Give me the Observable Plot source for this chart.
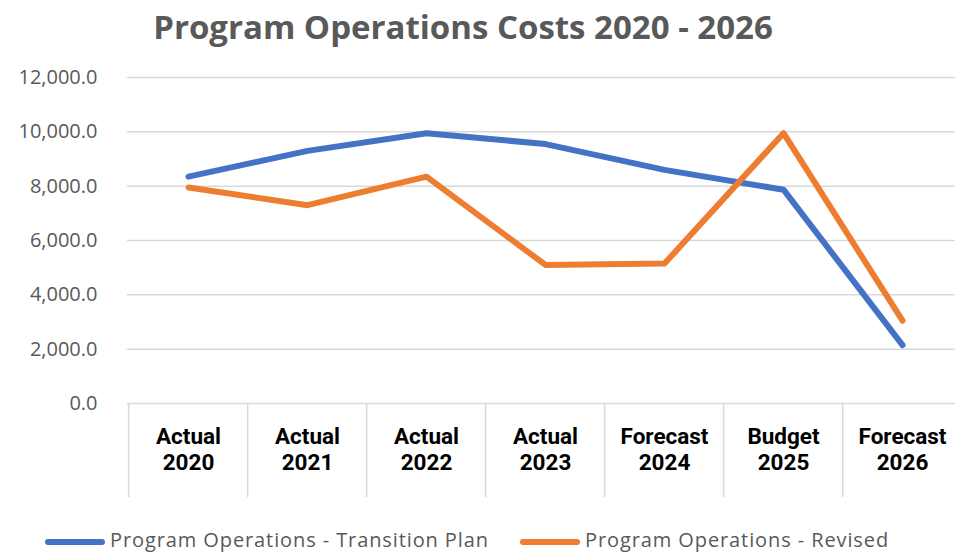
<!DOCTYPE html>
<html>
<head>
<meta charset="utf-8">
<script src="https://cdn.jsdelivr.net/npm/d3@7"></script>
<script src="https://cdn.jsdelivr.net/npm/@observablehq/plot@0.6"></script>
<style>
  html, body { margin: 0; padding: 0; background: #fff; }
  #wrap { position: relative; width: 955px; height: 555px; overflow: hidden; }
  #title { position: absolute; left: 0; top: 0; width: 926px; text-align: center; font-family: "Open Sans", sans-serif; font-weight: 700; font-size: 33px; color: #595959; line-height: 54px; }
  #chart { position: absolute; left: 0; top: 52px; }
  #legend { position: absolute; left: 0; top: 527px; width: 955px; height: 26px; font-family: "Open Sans", sans-serif; font-size: 20px; letter-spacing: 0.9px; color: #595959; }
  .item { position: absolute; top: 0; display: flex; align-items: center; height: 26px; line-height: 24px; white-space: nowrap; }
  .sw { display: inline-block; width: 60px; height: 6px; border-radius: 3px; margin-right: 5px; margin-top: 3px; }
</style>
</head>
<body>
<div id="wrap">
  <div id="title">Program Operations Costs 2020 - 2026</div>
  <div id="chart"></div>
  <div id="legend"></div>
</div>
<script>
const categories = ["Actual\n2020", "Actual\n2021", "Actual\n2022", "Actual\n2023", "Forecast\n2024", "Budget\n2025", "Forecast\n2026"];
const transitionPlan = [8350, 9300, 9950, 9550, 8600, 7870, 2150];
const revised = [7950, 7300, 8350, 5100, 5150, 9950, 3050];
const seriesNames = ["Program Operations - Transition Plan", "Program Operations - Revised"];
const seriesColors = ["#4472C4", "#ED7D31"];
const yTicks = [0, 2000, 4000, 6000, 8000, 10000, 12000];

const data = [];
categories.forEach((c, i) => {
  data.push({cat: c, value: transitionPlan[i], series: seriesNames[0]});
  data.push({cat: c, value: revised[i], series: seriesNames[1]});
});

const xRange = [126, 964];
const step = (xRange[1] - xRange[0]) / categories.length;

const chart = Plot.plot({
  width: 955,
  height: 460,
  marginTop: 25,
  marginBottom: 109,
  marginLeft: 127,
  marginRight: 0,
  x: {type: "point", domain: categories, range: xRange, padding: 0.5, axis: null},
  y: {domain: [0, 12000], ticks: yTicks},
  color: {domain: seriesNames, range: seriesColors},
  style: {fontFamily: "Open Sans, sans-serif", overflow: "visible"},
  marks: [
    Plot.gridY(yTicks, {stroke: "#d9d9d9", strokeOpacity: 1, strokeWidth: 1.5}),
    Plot.axisY(yTicks, {
      tickSize: 0, tickPadding: 30, label: null,
      tickFormat: d3.format(",.1f"),
      fontSize: 20, fill: "#595959"
    }),
    Plot.axisX(categories, {
      anchor: "bottom", tickSize: 94, tickFormat: () => "", dx: -step / 2,
      stroke: "#d9d9d9", strokeWidth: 1.5, strokeOpacity: 1, label: null
    }),
    Plot.text(categories, {
      x: d => d, y: 0, dy: 45, text: d => d,
      fontFamily: "Roboto, sans-serif", fontWeight: 700, fontSize: 22.5,
      lineHeight: 1.16, fill: "#000"
    }),
    Plot.line(data, {
      x: "cat", y: "value", z: "series", stroke: "series",
      strokeWidth: 6, strokeLinecap: "round", strokeLinejoin: "round"
    })
  ]
});
document.getElementById("chart").appendChild(chart);

const legend = document.getElementById("legend");
const lefts = [45, 520];
seriesNames.forEach((name, i) => {
  const it = document.createElement("div");
  it.className = "item";
  it.style.left = lefts[i] + "px";
  const sw = document.createElement("span");
  sw.className = "sw";
  sw.style.background = seriesColors[i];
  it.appendChild(sw);
  const t = document.createElement("span");
  t.textContent = name;
  it.appendChild(t);
  legend.appendChild(it);
});
</script>
</body>
</html>
